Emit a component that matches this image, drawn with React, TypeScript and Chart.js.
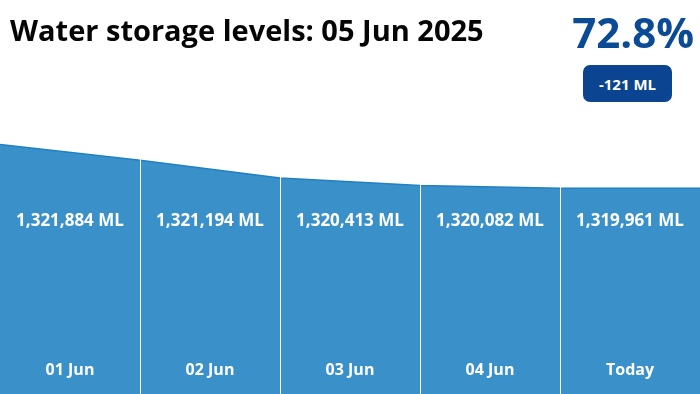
import React, { useEffect, useRef } from "react";
import { Chart, registerables } from "chart.js";

Chart.register(...registerables);

const dates = ["01 Jun", "02 Jun", "03 Jun", "04 Jun", "Today"];
const storageML = [1321884, 1321194, 1320413, 1320082, 1319961];
const titleText = "Water storage levels: 05 Jun 2025";
const percentFull = "72.8%";
const dailyChange = "-121 ML";

const FONT = "'Open Sans', 'Noto Sans', sans-serif";

const fmt = (v: number) => v.toLocaleString("en-US") + " ML";

export default function App() {
  const ref = useRef<HTMLCanvasElement | null>(null);

  useEffect(() => {
    document.body.style.margin = "0";
    const canvas = ref.current;
    if (!canvas) return;

    const points = storageML.map((v, i) => ({ x: i, y: v }));
    points.push({ x: storageML.length, y: storageML[storageML.length - 1] });

    const segmentPlugin = {
      id: "segmentLabels",
      afterDatasetsDraw(chart: any) {
        const { ctx, scales, chartArea } = chart;
        const xs = scales.x;
        ctx.save();
        ctx.strokeStyle = "#ffffff";
        ctx.lineWidth = 1;
        for (let i = 1; i < dates.length; i++) {
          const px = Math.round(xs.getPixelForValue(i)) + 0.5;
          ctx.beginPath();
          ctx.moveTo(px, chartArea.top);
          ctx.lineTo(px, chartArea.bottom);
          ctx.stroke();
        }
        ctx.fillStyle = "#ffffff";
        ctx.textAlign = "center";
        ctx.textBaseline = "alphabetic";
        dates.forEach((d, i) => {
          const cx = xs.getPixelForValue(i + 0.5);
          ctx.font = `bold 17px ${FONT}`;
          ctx.fillText(fmt(storageML[i]), cx, 226);
          ctx.font = `bold 16px ${FONT}`;
          ctx.fillText(d, cx, 375);
        });
        ctx.restore();
      },
    };

    const chart = new Chart(canvas, {
      type: "line",
      data: {
        datasets: [
          {
            data: points,
            fill: "start",
            backgroundColor: "#3a91c9",
            borderColor: "#1f80c3",
            borderWidth: 1.5,
            pointRadius: 0,
            tension: 0,
          },
        ],
      },
      options: {
        animation: false,
        responsive: false,
        maintainAspectRatio: false,
        layout: { padding: 0 },
        plugins: {
          legend: { display: false },
          tooltip: { enabled: false },
          title: { display: false },
        },
        scales: {
          x: { type: "linear", min: 0, max: storageML.length, display: false },
          y: { min: 1310930, max: 1328230, display: false },
        },
      },
      plugins: [segmentPlugin],
    });
    return () => chart.destroy();
  }, []);

  return (
    <div style={{ position: "fixed", left: 0, top: 0, width: 700, height: 394, background: "#fff", overflow: "hidden" }}>
      <canvas ref={ref} width={700} height={394} style={{ position: "absolute", left: 0, top: 0, width: 700, height: 394 }} />
      <div
        style={{
          position: "absolute",
          left: 10,
          top: 11,
          fontFamily: FONT,
          fontWeight: 700,
          fontSize: 29,
          color: "#050505",
          whiteSpace: "nowrap",
          lineHeight: "38px",
        }}
      >
        {titleText}
      </div>
      <div
        style={{
          position: "absolute",
          right: 6,
          top: 6,
          fontFamily: FONT,
          fontWeight: 700,
          fontSize: 42,
          color: "#0b4a95",
          lineHeight: "52px",
          whiteSpace: "nowrap",
        }}
      >
        {percentFull}
      </div>
      <div
        style={{
          position: "absolute",
          left: 583,
          top: 65,
          width: 89,
          height: 37,
          borderRadius: 7,
          background: "#0b4591",
          color: "#fff",
          fontFamily: FONT,
          fontWeight: 700,
          fontSize: 15,
          display: "flex",
          alignItems: "center",
          justifyContent: "center",
        }}
      >
        {dailyChange}
      </div>
    </div>
  );
}
